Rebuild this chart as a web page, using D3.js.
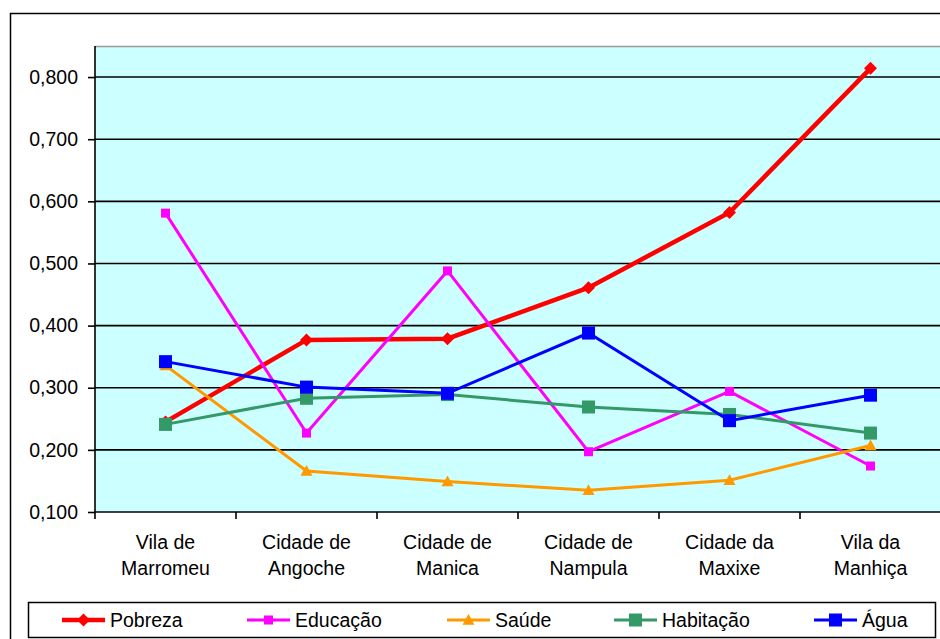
<!DOCTYPE html>
<html>
<head>
<meta charset="utf-8">
<script src="https://cdn.jsdelivr.net/npm/d3@7"></script>
<style>
  html, body { margin: 0; padding: 0; background: #ffffff; }
  svg { display: block; font-family: "Liberation Sans", Arial, sans-serif; }
</style>
</head>
<body>
<svg id="chart" width="940" height="639"></svg>
<script>
// Municipalities (two-line labels)
const categories = [
  ["Vila de", "Marromeu"],
  ["Cidade de", "Angoche"],
  ["Cidade de", "Manica"],
  ["Cidade de", "Nampula"],
  ["Cidade da", "Maxixe"],
  ["Vila da", "Manhiça"]
];

// Index values per dimension
const pobreza   = [0.245, 0.377, 0.379, 0.461, 0.582, 0.814];
const educacao  = [0.581, 0.227, 0.488, 0.197, 0.294, 0.174];
const saude     = [0.336, 0.166, 0.149, 0.135, 0.151, 0.207];
const habitacao = [0.241, 0.283, 0.289, 0.269, 0.257, 0.227];
const agua      = [0.342, 0.301, 0.291, 0.388, 0.247, 0.288];

const seriesNames = ["Pobreza", "Educação", "Saúde", "Habitação", "Água"];
const yTicks = [0.1, 0.2, 0.3, 0.4, 0.5, 0.6, 0.7, 0.8];

const series = [
  { name: seriesNames[0], values: pobreza,   color: "#ff0000", width: 4.5, marker: "diamond",  size: 13 },
  { name: seriesNames[1], values: educacao,  color: "#ff00ff", width: 3,   marker: "square",   size: 9 },
  { name: seriesNames[2], values: saude,     color: "#ff9900", width: 3,   marker: "triangle", size: 12 },
  { name: seriesNames[3], values: habitacao, color: "#339966", width: 3,   marker: "square",   size: 13 },
  { name: seriesNames[4], values: agua,      color: "#0000ff", width: 3,   marker: "square",   size: 13 }
];

const svg = d3.select("#chart");
const font = 19.5;

// outer chart frame
svg.append("rect")
  .attr("x", 10.5).attr("y", 13.5)
  .attr("width", 1000).attr("height", 700)
  .attr("fill", "#ffffff").attr("stroke", "#000000").attr("stroke-width", 1.5);

const plot = { left: 95, top: 46, right: 941, bottom: 512 };

const catKeys = categories.map((c, i) => i);
const x = d3.scaleBand().domain(catKeys).range([plot.left, plot.right]);
const y = d3.scaleLinear().domain([0.1, 0.85]).range([plot.bottom, plot.top]);

// plot background
svg.append("rect")
  .attr("x", plot.left).attr("y", plot.top)
  .attr("width", plot.right - plot.left).attr("height", plot.bottom - plot.top)
  .attr("fill", "#ccffff");
svg.append("line")
  .attr("x1", plot.left).attr("x2", plot.right)
  .attr("y1", plot.top + 0.5).attr("y2", plot.top + 0.5)
  .attr("stroke", "#9a9a9a").attr("stroke-width", 1.5);

// horizontal gridlines
svg.append("g")
  .selectAll("line")
  .data(yTicks.slice(1))
  .join("line")
  .attr("x1", plot.left).attr("x2", plot.right)
  .attr("y1", d => y(d)).attr("y2", d => y(d))
  .attr("stroke", "#000000").attr("stroke-width", 1.6);

// y axis
const yAxis = d3.axisLeft(y)
  .tickValues(yTicks)
  .tickSize(7)
  .tickPadding(10)
  .tickFormat(d => d3.format(".3f")(d).replace(".", ","));
const gy = svg.append("g").attr("transform", `translate(${plot.left},0)`).call(yAxis);
gy.select(".domain").attr("stroke", "#000").attr("stroke-width", 1.6)
  .attr("d", `M-0,${plot.top}V${plot.bottom}`);
gy.selectAll(".tick line").attr("stroke", "#000").attr("stroke-width", 1.6);
gy.selectAll(".tick text")
  .attr("font-size", font).attr("fill", "#000")
  .attr("font-family", "Liberation Sans, Arial, sans-serif");

// x axis: boundary ticks between categories
const edges = catKeys.map(k => x(k)).concat([plot.right]);
const gx = svg.append("g");
gx.append("line")
  .attr("x1", plot.left).attr("x2", plot.right)
  .attr("y1", plot.bottom).attr("y2", plot.bottom)
  .attr("stroke", "#000").attr("stroke-width", 1.6);
gx.selectAll("line.tick")
  .data(edges)
  .join("line")
  .attr("class", "tick")
  .attr("x1", d => d).attr("x2", d => d)
  .attr("y1", plot.bottom).attr("y2", plot.bottom + 7)
  .attr("stroke", "#000").attr("stroke-width", 1.6);

// category labels
const lbl = svg.append("g")
  .selectAll("text")
  .data(catKeys)
  .join("text")
  .attr("text-anchor", "middle")
  .attr("font-size", font)
  .attr("fill", "#000");
lbl.selectAll("tspan")
  .data(k => categories[k].map(t => ({ k, t })))
  .join("tspan")
  .attr("x", d => x(d.k) + x.bandwidth() / 2)
  .attr("y", (d, i) => 549 + i * 26)
  .text(d => d.t);

// marker paths
function markerPath(type, s) {
  const h = s / 2;
  if (type === "diamond") return `M0,${-h}L${h},0L0,${h}L${-h},0Z`;
  if (type === "triangle") return `M0,${-h}L${h},${h * 0.8}L${-h},${h * 0.8}Z`;
  return `M${-h},${-h}H${h}V${h}H${-h}Z`;
}

const cx = k => x(k) + x.bandwidth() / 2;
const line = d3.line().x((d, i) => cx(i)).y(d => y(d));

// draw series in order, later ones on top
const gs = svg.append("g")
  .selectAll("g")
  .data(series)
  .join("g");
gs.append("path")
  .attr("d", d => line(d.values))
  .attr("fill", "none")
  .attr("stroke", d => d.color)
  .attr("stroke-width", d => d.width)
  .attr("stroke-linejoin", "miter");
gs.selectAll("path.mk")
  .data(d => d.values.map((v, i) => ({ v, i, s: d })))
  .join("path")
  .attr("class", "mk")
  .attr("transform", d => `translate(${cx(d.i)},${y(d.v)})`)
  .attr("d", d => markerPath(d.s.marker, d.s.size))
  .attr("fill", d => d.s.color);

// legend
const legend = svg.append("g");
legend.append("rect")
  .attr("x", 28.5).attr("y", 602.5)
  .attr("width", 907).attr("height", 35)
  .attr("fill", "#ffffff").attr("stroke", "#000").attr("stroke-width", 1.5);
const legendX = [62, 247, 447, 614, 814];
const li = legend.selectAll("g.item")
  .data(series)
  .join("g")
  .attr("class", "item")
  .attr("transform", (d, i) => `translate(${legendX[i]},620)`);
li.append("line")
  .attr("x1", 0).attr("x2", 43)
  .attr("stroke", d => d.color)
  .attr("stroke-width", d => d.width);
li.append("path")
  .attr("transform", "translate(21.5,0)")
  .attr("d", d => markerPath(d.marker, d.size))
  .attr("fill", d => d.color);
li.append("text")
  .attr("x", 48).attr("y", 7)
  .attr("font-size", font)
  .attr("fill", "#000")
  .text(d => d.name);
</script>
</body>
</html>
